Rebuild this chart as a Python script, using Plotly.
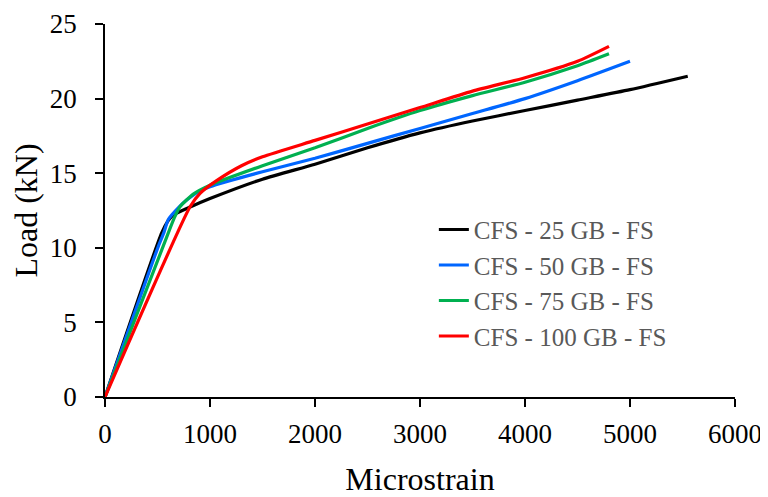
import plotly.graph_objects as go

series_names = ["CFS - 25 GB - FS", "CFS - 50 GB - FS", "CFS - 75 GB - FS", "CFS - 100 GB - FS"]
colors = ["#000000", "#0066FF", "#00B050", "#FF0000"]

strain_25 = [0, 540, 600, 650, 800, 1000, 1500, 2000, 2500, 3000, 3500, 4000, 4500, 5000, 5550]
load_25 = [0, 11.0, 11.8, 12.2, 12.7, 13.3, 14.6, 15.6, 16.7, 17.7, 18.5, 19.2, 19.9, 20.6, 21.5]

strain_50 = [0, 508, 560, 603, 700, 778, 900, 1000, 1500, 2000, 2500, 3000, 3500, 4000, 4500, 5000]
load_50 = [0, 10.1, 11.0, 11.9, 12.7, 13.2, 13.8, 14.1, 15.1, 16.0, 17.0, 18.0, 19.0, 20.0, 21.2, 22.5]

strain_75 = [0, 603, 660, 714, 841, 1000, 1500, 2000, 2500, 3000, 3500, 4000, 4500, 4800]
load_75 = [0, 11.0, 12.0, 12.75, 13.6, 14.2, 15.5, 16.7, 18.0, 19.2, 20.2, 21.1, 22.2, 23.0]

strain_100 = [0, 810, 905, 1063, 1300, 1500, 2000, 2500, 3000, 3500, 4000, 4500, 4800]
load_100 = [0, 12.75, 13.65, 14.5, 15.5, 16.1, 17.2, 18.3, 19.4, 20.5, 21.4, 22.5, 23.5]

xs = [strain_25, strain_50, strain_75, strain_100]
ys = [load_25, load_50, load_75, load_100]

x_ticks = [0, 1000, 2000, 3000, 4000, 5000, 6000]
y_ticks = [0, 5, 10, 15, 20, 25]

fig = go.Figure()
for name, c, x, y in zip(series_names, colors, xs, ys):
    fig.add_trace(go.Scatter(x=x, y=y, name=name, mode="lines",
                             line=dict(color=c, width=3.2, shape="spline", smoothing=0.6)))

font_family = "Liberation Serif"
fig.update_layout(
    width=760, height=489,
    margin=dict(l=97, r=33, t=16, b=100, autoexpand=False),
    paper_bgcolor="white", plot_bgcolor="white",
    font=dict(family=font_family, size=27, color="black"),
    showlegend=True,
    legend=dict(x=0.522, y=0.51, xanchor="left", yanchor="top",
                font=dict(family=font_family, size=25, color="#595959"),
                bgcolor="rgba(0,0,0,0)", tracegroupgap=0, borderwidth=0),
    xaxis=dict(range=[0, 6000], tickvals=x_ticks, ticks="outside", ticklen=8,
               tickwidth=1.5, tickcolor="black", showline=True, linecolor="black",
               linewidth=1.5, showgrid=False, zeroline=False, ticklabelstandoff=4,
               title=dict(text="Microstrain", standoff=36)),
    yaxis=dict(range=[0, 25], tickvals=y_ticks, ticks="outside", ticklen=8,
               tickwidth=1.5, tickcolor="black", showline=True, linecolor="black",
               linewidth=1.5, showgrid=False, zeroline=False, ticklabelstandoff=13,
               title=dict(text="Load (kN)", standoff=11)),
)

fig.write_html("out.html")
